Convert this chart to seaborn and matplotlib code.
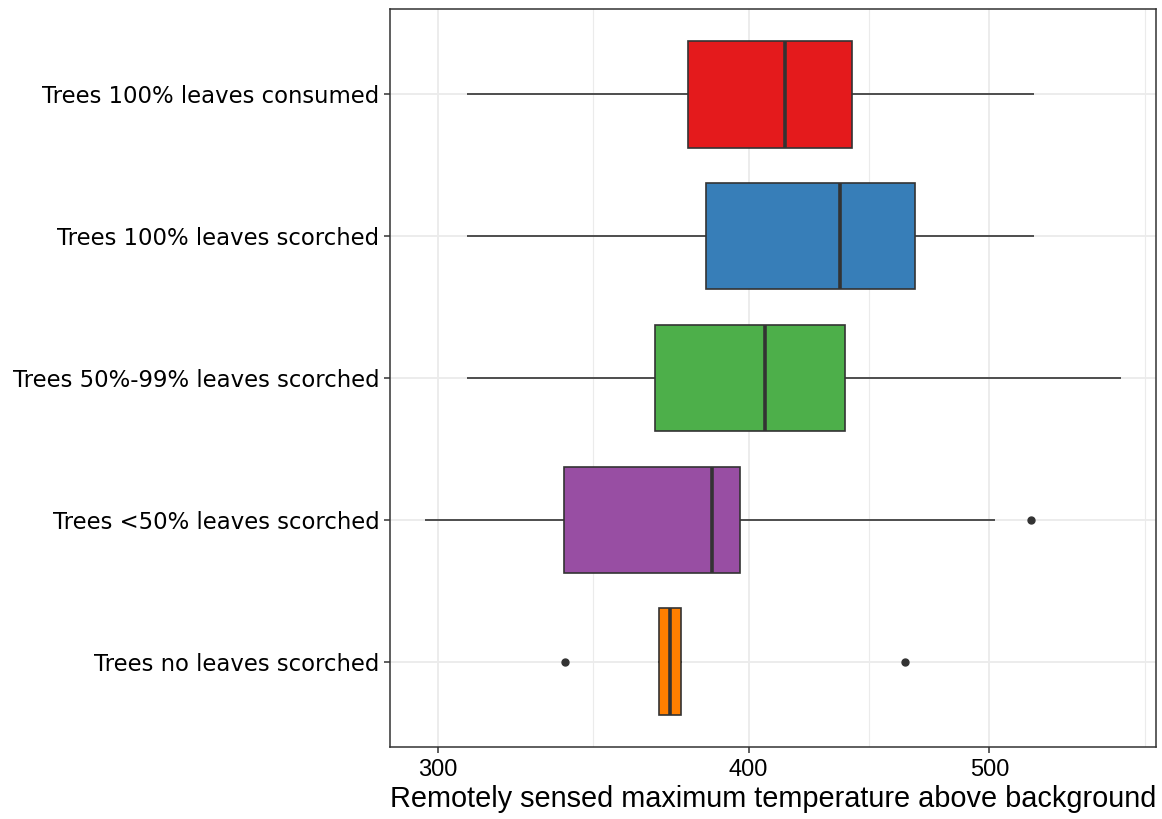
import numpy as np
import pandas as pd
import matplotlib
matplotlib.use("Agg")
import matplotlib.pyplot as plt
from matplotlib.ticker import NullFormatter
import seaborn as sns

# ---- data (five-number summaries + outliers) ----
categories = [
    "Trees 100% leaves consumed",
    "Trees 100% leaves scorched",
    "Trees 50%-99% leaves scorched",
    "Trees <50% leaves scorched",
    "Trees no leaves scorched",
]
whisker_low = [308.1, 308.1, 308.1, 296.3, 367.8]
q1 = [378.0, 384.5, 366.8, 337.2, 368.2]
median = [413.9, 435.3, 406.2, 386.5, 371.8]
q3 = [440.1, 466.6, 437.5, 396.7, 375.8]
whisker_high = [521.3, 521.3, 565.0, 502.5, 376.2]
outliers = [[], [], [], [519.6], [337.3, 462.6]]

colors = ["#E41A1C", "#377EB8", "#4DAF4A", "#984EA3", "#FF7F00"]
major_ticks = [300, 400, 500]
x_label = "Remotely sensed maximum temperature above background"

# build sample values that reproduce each summary
rows = []
for cat, lo, a, m, b, hi, out in zip(categories, whisker_low, q1, median, q3,
                                     whisker_high, outliers):
    vals = [lo] + [a] * 20 + [m] * 20 + [b] * 20 + [hi] + list(out)
    rows += [(cat, v) for v in vals]
df = pd.DataFrame(rows, columns=["group", "temp"])

sns.set_theme(style="white")
plt.rcParams["font.family"] = ["DejaVu Sans"]
sans = "Liberation Sans"

fig = plt.figure(figsize=(11.62, 8.19), dpi=100)
ax = fig.add_axes([390 / 1162, 1 - 746.7 / 819, (1156 - 390) / 1162, (746.7 - 9.3) / 819])

line_c = "#333333"
sns.boxplot(
    data=df, x="temp", y="group", hue="group", order=categories,
    hue_order=categories, palette=colors, saturation=1, legend=False,
    log_scale=True, width=0.75, linecolor=line_c, linewidth=1.2, fliersize=5,
    whis=1.5, showcaps=False,
    medianprops=dict(color=line_c, linewidth=2.6),
    flierprops=dict(marker="o", markerfacecolor=line_c, markeredgecolor=line_c),
    ax=ax,
)

# x limits: data range in log space expanded by 5%
all_vals = np.log10(df["temp"].to_numpy())
lo_l, hi_l = all_vals.min(), all_vals.max()
pad = 0.05 * (hi_l - lo_l)
ax.set_xlim(10 ** (lo_l - pad), 10 ** (hi_l + pad))
ax.set_ylim(len(categories) - 0.4, -0.6)

lt = np.log10(major_ticks)
step = lt[1] - lt[0]
minor = [10 ** ((lt[i] + lt[i + 1]) / 2) for i in range(len(lt) - 1)]
minor.append(10 ** (lt[-1] + step / 2))
ax.set_xticks(major_ticks)
ax.set_xticklabels([str(t) for t in major_ticks])
ax.set_xticks(minor, minor=True)
ax.xaxis.set_minor_formatter(NullFormatter())
ax.tick_params(axis="x", which="minor", length=0)

ax.set_axisbelow(True)
ax.grid(True, which="major", axis="both", color="#EBEBEB", linewidth=1.3)
ax.grid(True, which="minor", axis="x", color="#EBEBEB", linewidth=0.8)

for s in ax.spines.values():
    s.set_visible(True)
    s.set_color(line_c)
    s.set_linewidth(1.1)

ax.tick_params(axis="both", which="major", length=4.5, width=1.1, color=line_c,
               direction="out", bottom=True, left=True)
ax.tick_params(axis="y", labelsize=16.4, labelcolor="black", pad=3)
ax.tick_params(axis="x", labelsize=17, labelcolor="black", pad=4)
for lab in ax.get_xticklabels():
    lab.set_fontfamily(sans)

ax.set_ylabel("")
ax.set_xlabel(x_label, fontsize=20.8, family=sans, color="black", labelpad=3)

fig.savefig("out.png", dpi=100)
